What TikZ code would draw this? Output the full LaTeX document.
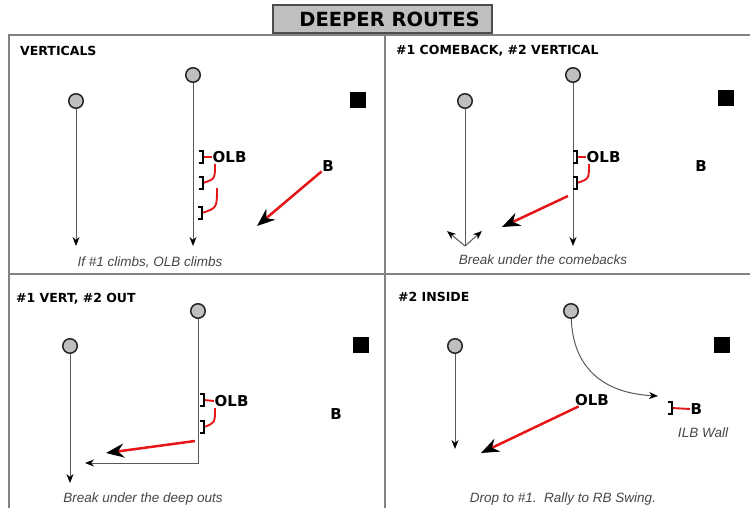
\documentclass[tikz,border=0pt]{standalone}
\usepackage{fontspec}
\setmainfont{Liberation Sans}
\newfontfamily\headfont{DejaVu Sans}
\usetikzlibrary{arrows.meta}
\definecolor{movered}{RGB}{228,22,24}
\definecolor{framegray}{RGB}{130,130,130}
\definecolor{notegray}{RGB}{70,70,70}
\tikzset{
  frameline/.style={draw=framegray, line width=2pt},
  banner/.style={draw=black!70, line width=1.4pt, fill=black!25, minimum width=219pt,
    minimum height=28pt, inner sep=0, font=\headfont\bfseries\fontsize{19.5}{20}\selectfont},
  paneltitle/.style={anchor=west, inner sep=0, font=\headfont\bfseries\fontsize{12.5}{14}\selectfont},
  receiver/.style={circle, draw=black!85, line width=1.5pt, fill=black!25, minimum size=14.5pt, inner sep=0},
  cornerbox/.style={fill=black, minimum size=16.5pt, inner sep=0},
  playerlbl/.style={inner sep=0.5pt, font=\headfont\bfseries\fontsize{15}{15}\selectfont},
  note/.style={inner sep=0, text=notegray, font=\itshape\fontsize{13.5}{15}\selectfont},
  route/.style={draw=black!65, line width=1pt},
  routearrow/.style={route, -{Stealth[length=9pt, width=7pt, color=black]}},
  movearrow/.style={draw=movered, line width=2.5pt, -{Stealth[length=18pt, width=14pt, color=black]}},
  tie/.style={draw=movered, line width=1.9pt},
  bracketbox/.style={inner sep=0, minimum width=3.5pt, minimum height=11pt},
  bracketline/.style={draw=black, line width=1.8pt},
}
\begin{document}
\begin{tikzpicture}[x=1pt, y=-1pt]
\useasboundingbox (0,0) rectangle (750,508);

% panel frame and dividers
\draw[frameline] (9,508) -- (9,35) -- (750,35);
\draw[frameline] (385,35) -- (385,508);
\draw[frameline] (9,274) -- (750,274);
\node[banner] (head) at (382.5,19) {\hspace*{14pt}DEEPER ROUTES};

% ---------- VERTICALS ----------
\node[paneltitle] (t1) at (20,51) {VERTICALS};
\node[receiver] (r1a) at (76,101) {};
\node[receiver] (r1b) at (193,75) {};
\node[cornerbox] (q1) at (358,100) {};
\coordinate (e1a) at (76,246);
\coordinate (e1b) at (193,246);
\draw[routearrow] (r1a) -- (e1a);
\draw[routearrow] (r1b) -- (e1b);
\node[bracketbox] (k1a) at (201,157) {};
\node[bracketbox] (k1b) at (201,183) {};
\node[bracketbox] (k1c) at (200,213) {};
\node[playerlbl, anchor=west] (o1) at (212,157) {OLB};
\draw[tie] (k1a.east) -- (o1.west);
\coordinate (c1a) at (215,164);
\coordinate (c1b) at (217,188);
\draw[tie] (c1a) .. controls (215,179) .. (k1b.east);
\draw[tie] (c1b) .. controls (217,208) .. (k1c.east);
\node[playerlbl] (b1) at (328,166) {B};
\coordinate (m1) at (257,226);
\draw[movearrow] (b1) -- (m1);
\node[note] (n1) at (150,262) {If \#1 climbs, OLB climbs};

% ---------- #1 COMEBACK, #2 VERTICAL ----------
\node[paneltitle] (t2) at (396,51) {\#1 COMEBACK, \#2 VERTICAL};
\node[receiver] (r2a) at (465,101) {};
\node[receiver] (r2b) at (573,75) {};
\node[cornerbox] (q2) at (726,98) {};
\coordinate (v2) at (465,246);
\coordinate (u2l) at (447,231);
\coordinate (u2r) at (482,231);
\draw[route] (r2a) -- (v2);
\draw[routearrow] (v2) -- (u2l);
\draw[routearrow] (v2) -- (u2r);
\coordinate (e2b) at (573,246);
\draw[routearrow] (r2b) -- (e2b);
\node[bracketbox] (k2a) at (575,157) {};
\node[bracketbox] (k2b) at (575,183) {};
\node[playerlbl, anchor=west] (o2) at (586,157) {OLB};
\draw[tie] (k2a.east) -- (o2.west);
\coordinate (c2a) at (589,164);
\draw[tie] (c2a) .. controls (589,179) .. (k2b.east);
\node[playerlbl] (b2) at (701,166) {B};
\coordinate (s2) at (568,196);
\coordinate (m2) at (502,227);
\draw[movearrow] (s2) -- (m2);
\node[note] (n2) at (543,260) {Break under the comebacks};

% ---------- #1 VERT, #2 OUT ----------
\node[paneltitle] (t3) at (16,299) {\#1 VERT, \#2 OUT};
\node[receiver] (r3a) at (70,346) {};
\node[receiver] (r3b) at (198,311) {};
\node[cornerbox] (q3) at (361,345) {};
\coordinate (e3a) at (70,483);
\draw[routearrow] (r3a) -- (e3a);
\coordinate (w3) at (198,463);
\coordinate (e3b) at (85,463);
\draw[routearrow] (r3b) -- (w3) -- (e3b);
\node[bracketbox] (k3a) at (202,400) {};
\node[bracketbox] (k3b) at (202,427) {};
\node[playerlbl, anchor=west] (o3) at (214,401) {OLB};
\draw[tie] (k3a.east) -- (o3.west);
\coordinate (c3a) at (215,408);
\draw[tie] (c3a) .. controls (215,423) .. (k3b.east);
\node[playerlbl] (b3) at (336,414) {B};
\coordinate (s3) at (195,441);
\coordinate (m3) at (106,453);
\draw[movearrow] (s3) -- (m3);
\node[note] (n3) at (143,499) {Break under the deep outs};

% ---------- #2 INSIDE ----------
\node[paneltitle] (t4) at (398,297) {\#2 INSIDE};
\node[receiver] (r4a) at (455,346) {};
\node[receiver] (r4b) at (571,311) {};
\node[cornerbox] (q4) at (722,345) {};
\coordinate (e4a) at (455,449);
\draw[routearrow] (r4a) -- (e4a);
\coordinate (e4b) at (658,396);
\draw[routearrow] (r4b) .. controls (573,365) and (600,393) .. (e4b);
\node[playerlbl] (o4) at (592,400) {OLB};
\coordinate (m4) at (481,453);
\draw[movearrow] (o4) -- (m4);
\node[bracketbox] (k4) at (670,408) {};
\node[playerlbl, anchor=west] (b4) at (690,409) {B};
\draw[tie] (k4.east) -- (b4.west);
\node[note] (w4) at (703,433) {ILB Wall};
\node[note] (n4) at (563,499) {Drop to \#1.\ \ Rally to RB Swing.};

% linebacker alignment brackets
\foreach \k in {k1a,k1b,k1c,k2a,k2b,k3a,k3b,k4}
  \draw[bracketline] (\k.north west) -- (\k.north east) -- (\k.south east) -- (\k.south west);
\end{tikzpicture}
\end{document}
